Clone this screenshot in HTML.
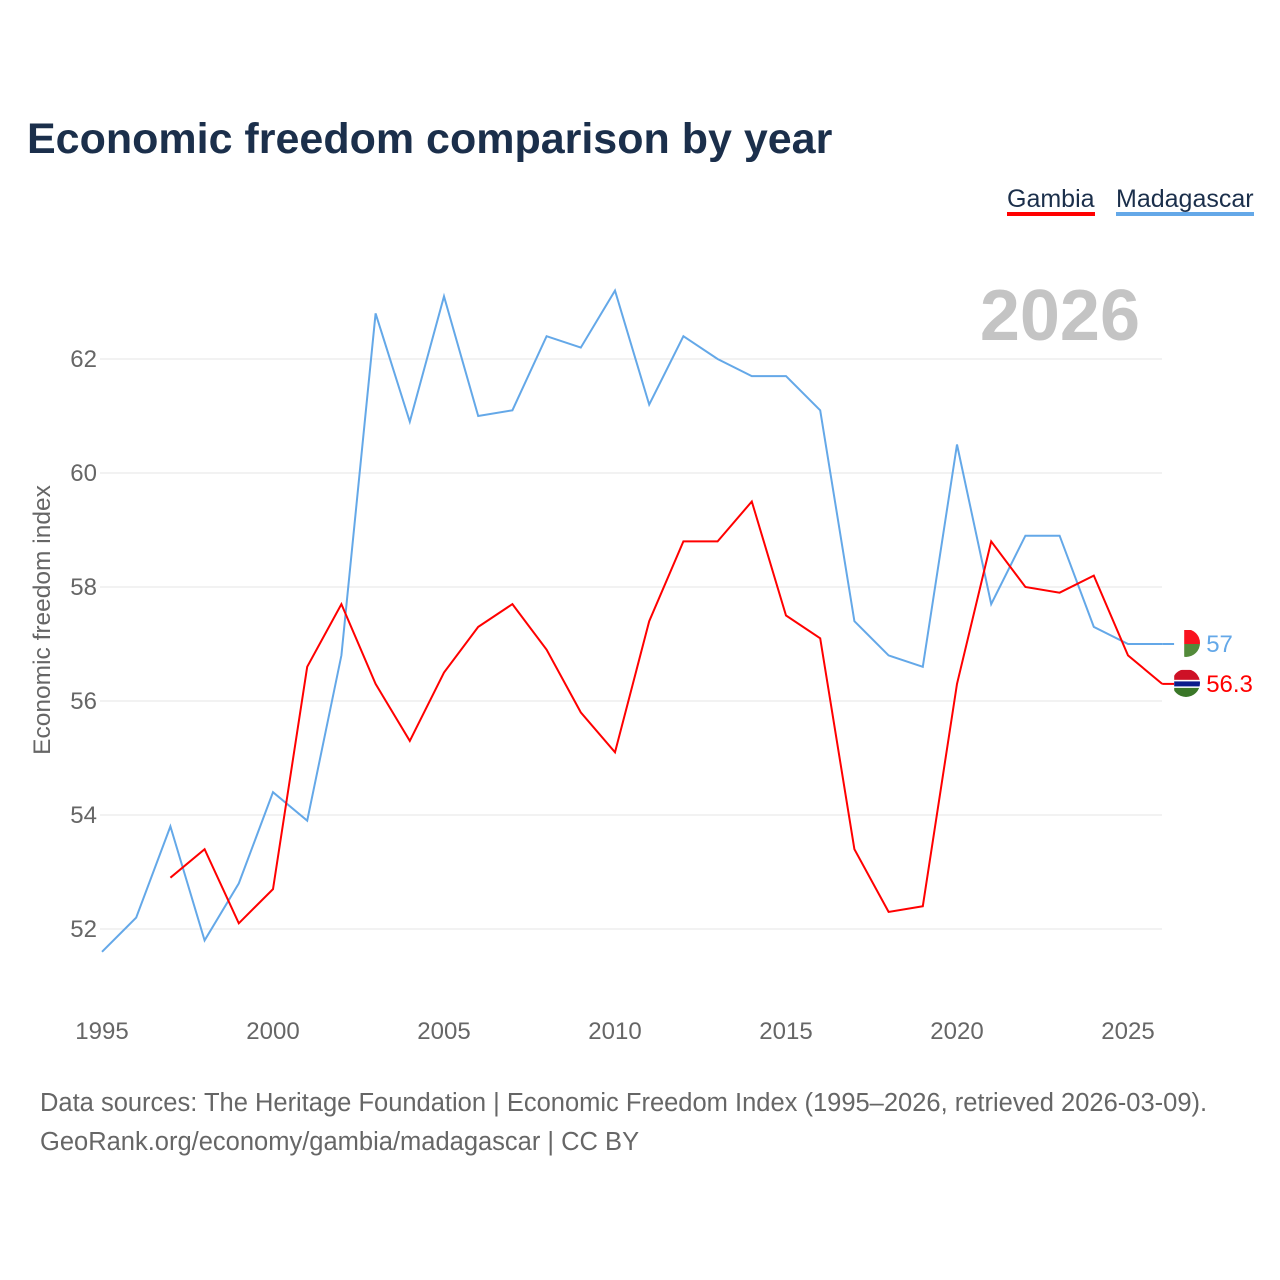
<!DOCTYPE html>
<html><head><meta charset="utf-8">
<style>
html,body{margin:0;padding:0;background:#fff;width:1280px;height:1280px;overflow:hidden}
body{font-family:"Liberation Sans",sans-serif}
</style></head>
<body>
<svg id="chart" width="1280" height="1280" xmlns="http://www.w3.org/2000/svg">
<defs>
<clipPath id="cm"><circle cx="1186" cy="643" r="14"/></clipPath>
<clipPath id="cg"><circle cx="1186" cy="683" r="14"/></clipPath>
</defs>
<text x="27" y="153" font-size="43" font-weight="bold" fill="#1b2f4b">Economic freedom comparison by year</text>
<g><text x="1007" y="207" font-size="25" fill="#1b2f4b">Gambia</text><rect x="1007" y="212" width="88" height="4" fill="#ff0000"/></g>
<g><text x="1116" y="207" font-size="25" fill="#1b2f4b">Madagascar</text><rect x="1116" y="212" width="138" height="4" fill="#64a8e8"/></g>
<text x="1140" y="340" text-anchor="end" font-size="72" font-weight="bold" fill="#c4c4c4">2026</text>
<text transform="translate(50,620) rotate(-90)" text-anchor="middle" font-size="24.5" fill="#666">Economic freedom index</text>
<g id="grid"></g><g id="xt"></g><g id="series"></g>
<text x="40" y="1111" font-size="25.5" fill="#666">Data sources: The Heritage Foundation | Economic Freedom Index (1995–2026, retrieved 2026-03-09).</text>
<text x="40" y="1150" font-size="25.5" fill="#666">GeoRank.org/economy/gambia/madagascar | CC BY</text>
</svg>
<script>
const years=[];for(let y=1995;y<=2026;y++)years.push(y);
const madagascar=[51.6,52.2,53.8,51.8,52.8,54.4,53.9,56.8,62.8,60.9,63.1,61.0,61.1,62.4,62.2,63.2,61.2,62.4,62.0,61.7,61.7,61.1,57.4,56.8,56.6,60.5,57.7,58.9,58.9,57.3,57.0,57.0];
const gambia=[null,null,52.9,53.4,52.1,52.7,56.6,57.7,56.3,55.3,56.5,57.3,57.7,56.9,55.8,55.1,57.4,58.8,58.8,59.5,57.5,57.1,53.4,52.3,52.4,56.3,58.8,58.0,57.9,58.2,56.8,56.3];
const yTicks=[52,54,56,58,60,62];
const xTicks=[1995,2000,2005,2010,2015,2020,2025];
const X=y=>102+(y-1995)*34.2;
const Y=v=>359+(62-v)*57;
const NS="http://www.w3.org/2000/svg";
function mk(t,a,p){const e=document.createElementNS(NS,t);for(const k in a)e.setAttribute(k,a[k]);p.appendChild(e);return e;}
const grid=document.getElementById('grid');
yTicks.forEach(v=>{
  const l=mk('line',{x1:100,x2:1162,y1:Y(v),y2:Y(v),stroke:'#e4e4e4','stroke-width':1},grid);
  
  
  const t=mk('text',{x:97,y:Y(v)+8,'text-anchor':'end','font-size':24,fill:'#666'},grid);t.textContent=v;
  
  
});
const xt=document.getElementById('xt');
xTicks.forEach(v=>{
  const t=mk('text',{x:X(v),y:1039,'text-anchor':'middle','font-size':24,fill:'#666'},xt);t.textContent=v;
  
  
});
const s=document.getElementById('series');
function line(vals,color,name,flag){
  let d='';vals.forEach((v,i)=>{if(v==null)return;d+=(d?'L':'M')+X(years[i])+','+Y(v);});
  const p=mk('path',{d:d,fill:'none',stroke:color,'stroke-width':2},s);
  
  
  const last=vals[vals.length-1],lx=X(years[years.length-1]),ly=Y(last);
  const g=mk('g',{},s);
  
  
  mk('line',{x1:lx,x2:lx+12,y1:ly,y2:ly,stroke:color,'stroke-width':2},g);
  const f=mk('g',{'clip-path':'url(#'+flag+')'},g);
  const cx=lx+26;
  if(flag==='cm'){
    mk('rect',{x:cx-14,y:ly-14,width:28,height:28,fill:'#fff'},f);
    mk('rect',{x:cx-4,y:ly-14,width:18,height:14,fill:'#f9131f'},f);
    mk('rect',{x:cx-4,y:ly,width:18,height:14,fill:'#538a3a'},f);
  }else{
    mk('rect',{x:cx-14,y:ly-14,width:28,height:10,fill:'#ce1126'},f);
    mk('rect',{x:cx-14,y:ly-4,width:28,height:8,fill:'#fff'},f);
    mk('rect',{x:cx-14,y:ly-2.5,width:28,height:5,fill:'#0c1c8c'},f);
    mk('rect',{x:cx-14,y:ly+4,width:28,height:10,fill:'#3a7728'},f);
  }
  const t=mk('text',{x:lx+44,y:ly+8,'font-size':24,fill:color},g);t.textContent=last;
}
line(madagascar,'#64a8e8','madagascar','cm');
line(gambia,'#ff0000','gambia','cg');
</script>
</body></html>
